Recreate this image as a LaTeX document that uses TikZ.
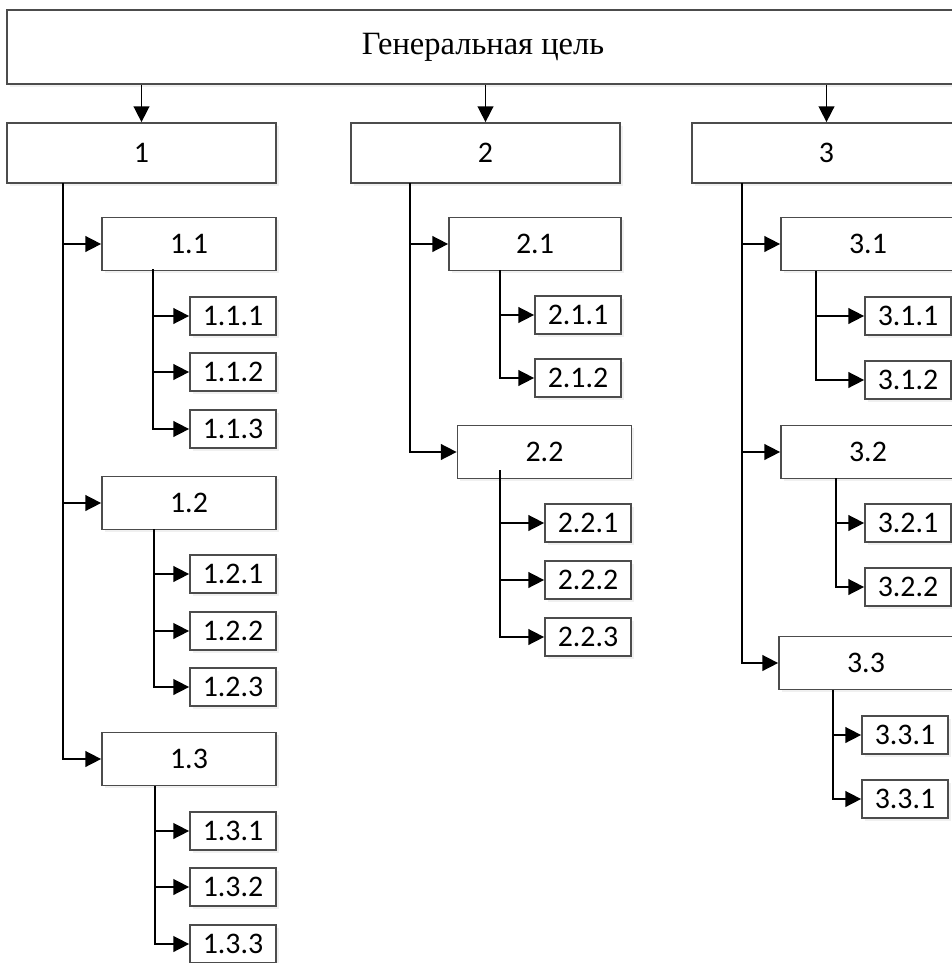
\documentclass[tikz,border=0pt]{standalone}
\usepackage{fontspec}
\setmainfont{Carlito}
\newfontfamily\titlefont{Liberation Serif}
\usetikzlibrary{positioning, arrows.meta, shadows}

\begin{document}
\begin{tikzpicture}[
    x=0.02cm, y=-0.02cm,
    >={Triangle[length=9pt, width=9pt]},
    every node/.style={font=\fontsize{17}{19}\selectfont},
    box/.style={draw=black!70, line width=1pt, fill=white, align=center, inner sep=0pt,
        drop shadow={opacity=0.12, shadow xshift=1.5pt, shadow yshift=-1.5pt}},
    goalbox/.style={box, minimum width=19.04cm, minimum height=1.48cm, font=\titlefont\fontsize{18.5}{20}\selectfont},
    mainbox/.style={box, minimum width=5.38cm, minimum height=1.2cm},
    subbox/.style={box, minimum width=3.48cm, minimum height=1.06cm},
    leafbox/.style={box, minimum width=1.72cm, minimum height=0.76cm},
    arr/.style={->, line width=0.9pt, black},
]
\useasboundingbox (0,0) rectangle (951,963);

% ---- Goal ----
\node[goalbox] (gen) at (483,47) {Генеральная цель};

% ---- First level ----
\node[mainbox] (c1) at (141.5,153) {1};
\node[mainbox] (c2) at (485.5,153) {2};
\node[mainbox] (c3) at (826.5,153) {3};

\draw[arr] (gen.south -| c1.north) -- (c1.north);
\draw[arr] (gen.south -| c2.north) -- (c2.north);
\draw[arr] (gen.south -| c3.north) -- (c3.north);

% ---- Branch 1 ----
\coordinate (t1) at (63,183);
\node[subbox] (c11) at (189,244) {1.1};
\node[subbox] (c12) at (189,503) {1.2};
\node[subbox] (c13) at (189,759) {1.3};
\draw[arr] (t1) |- (c11);
\draw[arr] (t1) |- (c12);
\draw[arr] (t1) |- (c13);

\coordinate (s11) at (153,269);
\node[leafbox] (c111) at (233,316) {1.1.1};
\node[leafbox] (c112) at (233,372) {1.1.2};
\node[leafbox] (c113) at (233,429) {1.1.3};
\draw[arr] (s11) |- (c111);
\draw[arr] (s11) |- (c112);
\draw[arr] (s11) |- (c113);

\coordinate (s12) at (154,529);
\node[leafbox] (c121) at (233,574) {1.2.1};
\node[leafbox] (c122) at (233,631) {1.2.2};
\node[leafbox] (c123) at (233,687) {1.2.3};
\draw[arr] (s12) |- (c121);
\draw[arr] (s12) |- (c122);
\draw[arr] (s12) |- (c123);

\coordinate (s13) at (155,786);
\node[leafbox] (c131) at (233,831) {1.3.1};
\node[leafbox] (c132) at (233,887) {1.3.2};
\node[leafbox] (c133) at (233,944) {1.3.3};
\draw[arr] (s13) |- (c131);
\draw[arr] (s13) |- (c132);
\draw[arr] (s13) |- (c133);

% ---- Branch 2 ----
\coordinate (t2) at (410,183);
\node[subbox, minimum width=3.44cm] (c21) at (535,244) {2.1};
\node[subbox] (c22) at (544.5,452) {2.2};
\draw[arr] (t2) |- (c21);
\draw[arr] (t2) |- (c22);

\coordinate (s21) at (500,270);
\node[leafbox] (c211) at (578,315) {2.1.1};
\node[leafbox] (c212) at (578,378) {2.1.2};
\draw[arr] (s21) |- (c211);
\draw[arr] (s21) |- (c212);

\coordinate (s22) at (500,470);
\node[leafbox] (c221) at (588,523) {2.2.1};
\node[leafbox] (c222) at (588,580) {2.2.2};
\node[leafbox] (c223) at (588,637) {2.2.3};
\draw[arr] (s22) |- (c221);
\draw[arr] (s22) |- (c222);
\draw[arr] (s22) |- (c223);

% ---- Branch 3 ----
\coordinate (t3) at (742,183);
\node[subbox] (c31) at (868,244) {3.1};
\node[subbox] (c32) at (868,452) {3.2};
\node[subbox] (c33) at (866,663) {3.3};
\draw[arr] (t3) |- (c31);
\draw[arr] (t3) |- (c32);
\draw[arr] (t3) |- (c33);

\coordinate (s31) at (816,271);
\node[leafbox] (c311) at (908,316) {3.1.1};
\node[leafbox] (c312) at (908,380) {3.1.2};
\draw[arr] (s31) |- (c311);
\draw[arr] (s31) |- (c312);

\coordinate (s32) at (836,478);
\node[leafbox] (c321) at (908,523) {3.2.1};
\node[leafbox] (c322) at (908,587) {3.2.2};
\draw[arr] (s32) |- (c321);
\draw[arr] (s32) |- (c322);

\coordinate (s33) at (833,690);
\node[leafbox] (c331) at (905,735) {3.3.1};
\node[leafbox] (c332) at (905,799) {3.3.1};
\draw[arr] (s33) |- (c331);
\draw[arr] (s33) |- (c332);

\end{tikzpicture}
\end{document}
